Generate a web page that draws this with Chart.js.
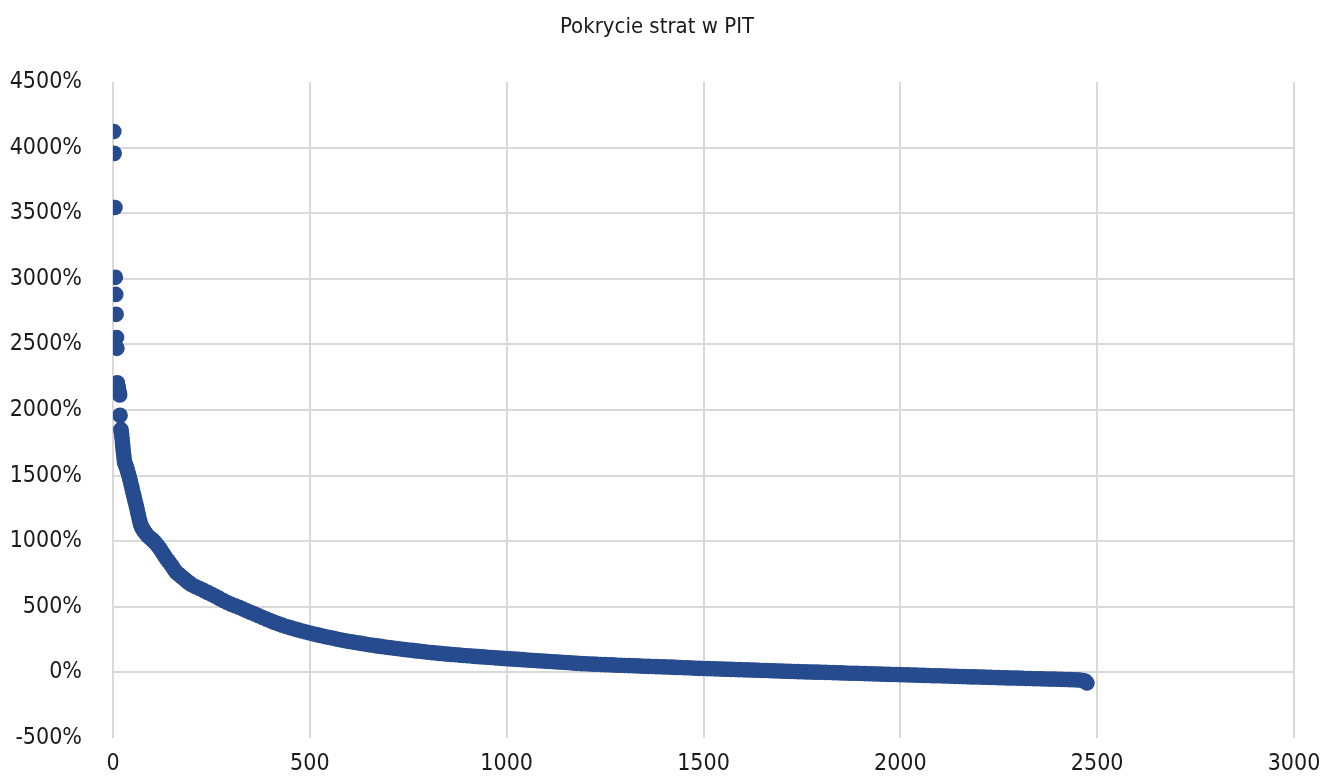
<!DOCTYPE html>
<html>
<head>
<meta charset="utf-8">
<script src="https://cdn.jsdelivr.net/npm/chart.js@4.4.1/dist/chart.umd.min.js"></script>
<style>
  html, body { margin: 0; padding: 0; background: #fff; }
</style>
</head>
<body>
<canvas id="chart" width="1324" height="776"></canvas>
<script>
// Pokrycie strat w PIT – wykres punktowy (ranga podatnika vs pokrycie strat w %)

// pojedyncze wartości odstające na górze wykresu
const outlierRank = [2, 3, 5, 6, 7, 8, 9, 10, 11, 12, 13, 14, 15, 16, 17, 18];
const outlierCover = [4123, 3956, 3544, 3011, 2881, 2729, 2553, 2470, 2207, 2190, 2172, 2155, 2138, 2125, 2115, 1959];

// gęsta część krzywej
const bandRank = [
  20, 21, 22, 23, 24, 25, 26, 27, 28, 29, 30, 32, 34, 36, 38, 40,
  42, 44, 46, 48, 50, 52, 54, 56, 58, 60, 62, 64, 66, 68, 70,
  72, 74, 76, 78, 80, 85, 90, 95, 100, 105, 110, 115, 120, 125, 130, 135, 140, 145, 150,
  155, 160, 165, 170, 175, 180, 185, 190, 195, 200,
  210, 220, 230, 240, 250, 260, 270, 280, 290, 300, 310, 320, 330, 340, 350, 360, 370, 380, 390, 400,
  410, 420, 430, 440, 450, 460, 470, 480, 490, 500, 510, 520, 530, 540, 550, 560, 570, 580, 590, 600,
  610, 620, 630, 640, 650, 660, 670, 680, 690, 700, 710, 720, 730, 740, 750, 760, 770, 780, 790, 800,
  810, 820, 830, 840, 850, 860, 870, 880, 890, 900, 910, 920, 930, 940, 950, 960, 970, 980, 990, 1000,
  1010, 1020, 1030, 1040, 1050, 1060, 1070, 1080, 1090, 1100, 1110, 1120, 1130, 1140, 1150, 1160, 1170, 1180, 1190, 1200,
  1210, 1220, 1230, 1240, 1250, 1260, 1270, 1280, 1290, 1300, 1310, 1320, 1330, 1340, 1350, 1360, 1370, 1380, 1390, 1400,
  1410, 1420, 1430, 1440, 1450, 1460, 1470, 1480, 1490, 1500, 1510, 1520, 1530, 1540, 1550, 1560, 1570, 1580, 1590, 1600,
  1610, 1620, 1630, 1640, 1650, 1660, 1670, 1680, 1690, 1700, 1710, 1720, 1730, 1740, 1750, 1760, 1770, 1780, 1790, 1800,
  1810, 1820, 1830, 1840, 1850, 1860, 1870, 1880, 1890, 1900, 1910, 1920, 1930, 1940, 1950, 1960, 1970, 1980, 1990, 2000,
  2010, 2020, 2030, 2040, 2050, 2060, 2070, 2080, 2090, 2100, 2110, 2120, 2130, 2140, 2150, 2160, 2170, 2180, 2190, 2200,
  2210, 2220, 2230, 2240, 2250, 2260, 2270, 2280, 2290, 2300, 2310, 2320, 2330, 2340, 2350, 2360, 2370, 2380, 2390, 2400,
  2410, 2420, 2430, 2440, 2450, 2460, 2466, 2470, 2474
];
const bandCover = [
  1852, 1835, 1812, 1785, 1750, 1720, 1690, 1662, 1635, 1612, 1595, 1580, 1565, 1545, 1525, 1505,
  1482, 1458, 1433, 1407, 1380, 1356, 1332, 1307, 1283, 1258, 1231, 1204, 1177, 1150, 1127,
  1114, 1101, 1091, 1082, 1072, 1052, 1036, 1022, 1010, 996, 978, 960, 940, 915, 892, 870, 850, 830, 810,
  786, 766, 752, 740, 727, 715, 702, 690, 679, 668,
  653, 640, 625, 610, 595, 580, 564, 548, 533, 520, 508, 496, 483, 470, 457, 445, 432, 419, 406, 393,
  381, 370, 360, 350, 341, 332, 324, 316, 308, 300, 293, 286, 279, 272, 266, 260, 253, 247, 241, 236,
  231, 226, 221, 216, 211, 207, 202, 198, 194, 190, 186, 182, 178, 175, 171, 168, 164, 161, 157, 154,
  151, 148, 145, 142, 139, 137, 134, 132, 129, 127, 125, 122, 120, 118, 116, 114, 111, 109, 107, 105,
  103, 101, 99, 97, 95, 93, 91, 89, 87, 85, 83, 81, 79, 77, 75, 73, 71, 69, 67, 66,
  64, 63, 62, 60, 59, 58, 57, 55, 54, 53, 52, 51, 50, 48, 47, 46, 45, 44, 43, 42,
  41, 40, 38, 37, 36, 35, 34, 32, 31, 30, 29, 28, 27, 26, 25, 24, 23, 22, 21, 20,
  19, 18, 17, 16, 15, 14, 13, 12, 11, 10, 9, 8, 7, 6, 5, 4, 3, 2, 2, 1,
  0, -1, -2, -3, -4, -5, -6, -7, -7, -8, -9, -10, -11, -12, -13, -14, -15, -16, -16, -17,
  -18, -19, -20, -21, -22, -23, -24, -25, -25, -26, -27, -28, -29, -30, -31, -32, -33, -34, -34, -35,
  -36, -37, -38, -39, -40, -41, -42, -43, -43, -44, -45, -46, -47, -48, -48, -49, -50, -51, -51, -52,
  -53, -54, -55, -56, -57, -60, -64, -68, -81
];

// osie
const xTicks = [0, 500, 1000, 1500, 2000, 2500, 3000];
const yTicks = [-500, 0, 500, 1000, 1500, 2000, 2500, 3000, 3500, 4000, 4500];

const BLUE = '#264b8e';
const GRID = '#d9d9d9';
const TEXT = '#1a1a1a';
const FONT = "'DejaVu Sans Condensed', 'Liberation Sans Narrow', sans-serif";

const points = outlierRank.map((r, i) => ({ x: r, y: outlierCover[i] }))
  .concat(bandRank.map((r, i) => ({ x: r, y: bandCover[i] })));

const ctx = document.getElementById('chart').getContext('2d');
new Chart(ctx, {
  type: 'scatter',
  data: {
    datasets: [{
      label: 'Pokrycie strat',
      data: points,
      backgroundColor: BLUE,
      borderColor: BLUE,
      borderWidth: 0,
      pointRadius: 7.8,
      pointHoverRadius: 7.8,
    }],
  },
  options: {
    responsive: false,
    animation: false,
    layout: { autoPadding: false, padding: { left: 4, right: 14, top: 0, bottom: 0 } },
    plugins: {
      legend: { display: false },
      tooltip: { enabled: false },
      title: {
        display: true,
        text: 'Pokrycie strat w PIT',
        color: TEXT,
        font: { family: FONT, size: 22, weight: 'normal' },
        padding: { top: 14, bottom: 41.6 },
      },
    },
    scales: {
      x: {
        type: 'linear',
        min: xTicks[0],
        max: xTicks[xTicks.length - 1],
        afterBuildTicks: (s) => { s.ticks = xTicks.map(v => ({ value: v })); },
        // stała wysokość osi, bez dodatkowych marginesów na etykiety
        afterFit: (s) => { s.height = 38; s.paddingLeft = 0; s.paddingRight = 0; },
        ticks: {
          padding: 12,
          color: TEXT,
          font: { family: FONT, size: 23 },
          maxRotation: 0,
          callback: (v) => String(v),
        },
        grid: { color: GRID, lineWidth: 2, drawTicks: false },
        border: { display: false },
      },
      y: {
        min: yTicks[0],
        max: yTicks[yTicks.length - 1],
        afterBuildTicks: (s) => { s.ticks = yTicks.map(v => ({ value: v })); },
        afterFit: (s) => { s.width = 109; s.paddingTop = 0; s.paddingBottom = 0; },
        ticks: {
          padding: 31,
          color: TEXT,
          font: { family: FONT, size: 23 },
          callback: (v) => v + '%',
        },
        grid: {
          // brak linii na krańcach osi (jak w oryginale)
          color: (c) => (c.tick && (c.tick.value === 4500 || c.tick.value === -500)) ? 'rgba(0,0,0,0)' : GRID,
          lineWidth: 2,
          drawTicks: false,
        },
        border: { display: false },
      },
      // pusty margines po prawej stronie
      yPad: {
        position: 'right',
        display: true,
        ticks: { display: false },
        grid: { display: false },
        border: { display: false },
        afterFit: (s) => { s.width = 16; s.paddingTop = 0; s.paddingBottom = 0; },
      },
    },
  },
});
</script>
</body>
</html>
